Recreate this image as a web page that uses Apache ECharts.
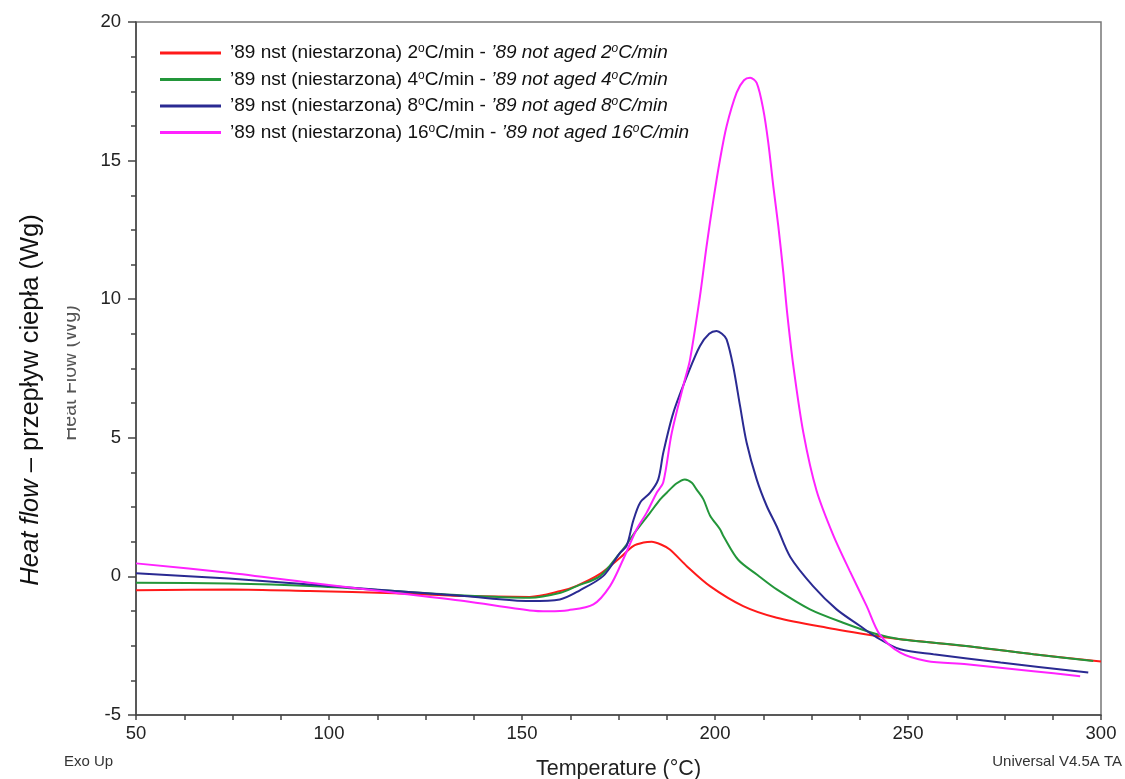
<!DOCTYPE html>
<html>
<head>
<meta charset="utf-8">
<script src="https://cdn.jsdelivr.net/npm/echarts@6/dist/echarts.min.js"></script>
<style>
html,body{margin:0;padding:0;background:#fff;}
#chart{width:1125px;height:779px;}
</style>
</head>
<body>
<div id="chart"></div>
<script>
// ---- data (temperature °C, heat flow W/g) ----
const rates = ['2', '4', '8', '16'];

const red2 = [[50,-0.5],[75,-0.47],[95,-0.53],[117,-0.61],[135,-0.71],[152,-0.74],[160,-0.53],[164,-0.35],[170,0.07],[175.4,0.67],[178.8,1.09],[181.5,1.22],[183.6,1.25],[186,1.15],[188.3,0.97],[192.7,0.37],[198.7,-0.35],[207.3,-1.07],[216,-1.49],[229,-1.85],[242,-2.15],[248,-2.27],[265,-2.51],[282.5,-2.81],[300,-3.07]];

const green4 = [[50,-0.23],[74,-0.26],[95,-0.35],[117,-0.53],[135,-0.69],[152,-0.77],[160,-0.59],[164.2,-0.35],[170.2,0.01],[175.4,0.85],[177.1,1.15],[178.8,1.5],[183.2,2.3],[185.8,2.78],[187.5,3.02],[190,3.35],[192.2,3.5],[194,3.38],[195.2,3.14],[197,2.78],[198.7,2.2],[201.3,1.7],[202.2,1.45],[206,0.6],[211,0.05],[216,-0.47],[224.6,-1.19],[233.2,-1.67],[242,-2.09],[248,-2.27],[265,-2.51],[282.5,-2.81],[298,-3.05]];

const blue8 = [[50,0.11],[74,-0.08],[95,-0.29],[117,-0.53],[135,-0.71],[152,-0.89],[159.8,-0.83],[165,-0.5],[171,0.01],[175.4,0.85],[177.1,1.1],[178.8,2.0],[180.6,2.66],[183.2,3.02],[185.3,3.5],[186.6,4.46],[189.2,5.9],[193.1,7.35],[196.1,8.31],[198.5,8.75],[200.4,8.85],[201.8,8.75],[203,8.55],[204.7,7.59],[206.5,6.14],[208.2,4.82],[210.8,3.5],[213.4,2.54],[216,1.8],[219.5,0.7],[225.4,-0.35],[231.5,-1.19],[237.6,-1.79],[242,-2.21],[248,-2.63],[256.6,-2.81],[274,-3.11],[296.7,-3.47]];

const magenta16 = [[50,0.47],[74,0.13],[95,-0.23],[117,-0.59],[135,-0.89],[152,-1.23],[157,-1.26],[162,-1.22],[168.5,-1.01],[172.8,-0.35],[176.2,0.61],[179.7,1.7],[182.3,2.3],[184.9,3.02],[186.6,3.4],[188.8,5.18],[192.2,7.1],[193.5,7.8],[196.1,10.1],[197.8,11.9],[199.6,13.6],[201.3,15.04],[203,16.24],[205.6,17.45],[207.5,17.9],[209.1,17.99],[210.8,17.8],[212.5,16.85],[213.8,15.65],[215.1,14.08],[216.4,12.64],[217.7,10.96],[218.7,9.5],[220.3,7.59],[222.9,5.18],[226.3,3.1],[230.6,1.5],[234.9,0.2],[239.3,-1.07],[242.7,-2.1],[248,-2.75],[254.8,-3.05],[265.2,-3.17],[282.5,-3.42],[294.6,-3.6]];

const seriesData = [red2, green4, blue8, magenta16];
const colors = ['#ff1a1a', '#23963a', '#2a2a92', '#ff22ff'];

const xTicks = [50, 100, 150, 200, 250, 300];
const yTicks = [-5, 0, 5, 10, 15, 20];

const chart = echarts.init(document.getElementById('chart'), null, {renderer: 'canvas'});
const FONT = '"Liberation Sans", Arial, sans-serif';

const option = {
  backgroundColor: '#ffffff',
  animation: false,
  textStyle: {fontFamily: FONT},
  grid: {left: 136, right: 24, top: 22, bottom: 64, containLabel: false, outerBoundsMode: 'none',
    show: true, borderColor: '#777', borderWidth: 1.5, backgroundColor: 'transparent'},
  legend: {
    orient: 'vertical',
    left: 155,
    top: 37,
    itemWidth: 61,
    itemHeight: 3,
    itemGap: 6,
    icon: 'rect',
    data: rates.map(r => r + '°C/min'),
    formatter: function (name) {
      const r = name.replace('°C/min', '');
      return '{a|’89 nst (niestarzona) ' + r + '}{s|o}{a|C/min - }{i|’89 not aged ' + r + '}{si|o}{i|C/min}';
    },
    textStyle: {
      fontFamily: FONT,
      color: '#111',
      padding: [0, 0, 0, 4],
      rich: {
        a: {fontSize: 19, fontFamily: FONT, color: '#111', lineHeight: 22},
        i: {fontSize: 19, fontFamily: FONT, fontStyle: 'italic', color: '#111', lineHeight: 22},
        s: {fontSize: 12, fontFamily: FONT, color: '#111', lineHeight: 22, verticalAlign: 'top', padding: [1, 0, 0, 0]},
        si: {fontSize: 12, fontFamily: FONT, fontStyle: 'italic', color: '#111', lineHeight: 22, verticalAlign: 'top', padding: [1, 0, 0, 0]}
      }
    }
  },
  xAxis: {
    type: 'value',
    min: 50, max: 300, interval: 50,
    name: 'Temperature (°C)',
    nameLocation: 'middle',
    nameGap: 43,
    nameTextStyle: {fontSize: 21.5, color: '#222', fontFamily: FONT},
    axisLine: {show: true, onZero: false, lineStyle: {color: '#444', width: 1.5}},
    axisTick: {show: true, inside: false, length: 5, lineStyle: {color: '#444', width: 1.5}},
    minorTick: {show: true, splitNumber: 4, length: 5, lineStyle: {color: '#444', width: 1.5}},
    splitLine: {show: false},
    axisLabel: {fontSize: 18.5, color: '#222', margin: 9, fontFamily: FONT,
      formatter: v => xTicks.indexOf(v) >= 0 ? String(v) : ''}
  },
  yAxis: {
    type: 'value',
    min: -5, max: 20, interval: 5,
    axisLine: {show: true, onZero: false, lineStyle: {color: '#444', width: 1.5}},
    axisTick: {show: true, inside: false, length: 8, lineStyle: {color: '#444', width: 1.5}},
    minorTick: {show: true, splitNumber: 4, length: 5, lineStyle: {color: '#444', width: 1.5}},
    splitLine: {show: false},
    axisLabel: {fontSize: 18.5, color: '#222', margin: 15, fontFamily: FONT,
      formatter: v => yTicks.indexOf(v) >= 0 ? String(v) : ''}
  },
  graphic: [
    {
      type: 'text', z: 10,
      x: 31, y: 400, rotation: Math.PI / 2,
      style: {
        text: '{it|Heat flow}{n|\u00a0– przepływ ciepła (Wg)}',
        align: 'center', verticalAlign: 'middle',
        rich: {
          it: {fontSize: 25.5, fontStyle: 'italic', fontFamily: FONT, fill: '#111'},
          n: {fontSize: 25.5, fontFamily: FONT, fill: '#111'}
        }
      }
    },
    {
      type: 'text', z: 5,
      x: 71, y: 373, rotation: Math.PI / 2,
      style: {text: 'Heat Flow (Wg)', fontSize: 19.5, fontFamily: FONT, fill: '#555', align: 'center', verticalAlign: 'middle'}
    },
    {
      type: 'rect', z: 6,
      shape: {x: 50, y: 285, width: 17, height: 180},
      style: {fill: '#ffffff'}
    },
    {
      type: 'text', z: 10, left: 64, top: 754,
      style: {text: 'Exo Up', fontSize: 15, fontFamily: FONT, fill: '#333'}
    },
    {
      type: 'text', z: 10, right: 3, top: 754,
      style: {text: 'Universal V4.5A TA', fontSize: 15, fontFamily: FONT, fill: '#333'}
    }
  ],
  series: seriesData.map((d, i) => ({
    name: rates[i] + '°C/min',
    type: 'line',
    data: d,
    showSymbol: false,
    smooth: 0.3,
    color: colors[i],
    lineStyle: {width: 2, color: colors[i]},
    clip: true
  }))
};
chart.setOption(option);
</script>
</body>
</html>
